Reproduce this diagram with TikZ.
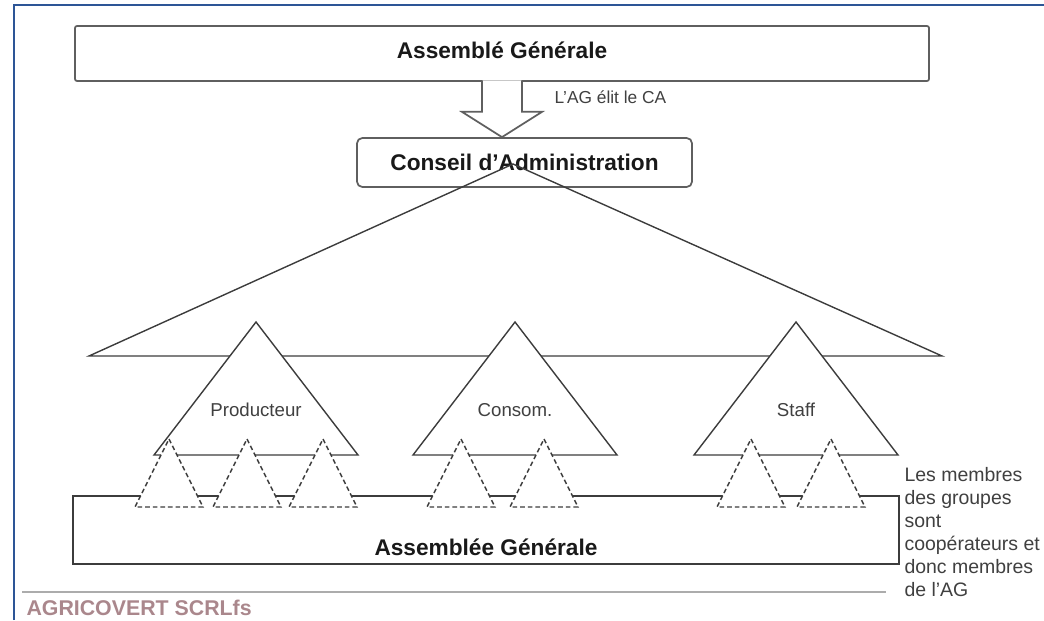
\documentclass[tikz,border=0pt]{standalone}
\usepackage{fontspec}
\setmainfont{Liberation Sans}
\usetikzlibrary{calc}
\definecolor{framebl}{RGB}{45,85,150}
\definecolor{boxgr}{RGB}{95,95,95}
\definecolor{linegr}{RGB}{60,60,60}
\definecolor{logopink}{RGB}{170,135,140}
\tikzset{every picture/.style={line width=0.75pt}}
\tikzset{
  box/.style={draw=boxgr, line width=1.3pt, fill=white, inner sep=0pt, rounded corners=1.5pt},
  grp/.style={draw=linegr, line width=1.05pt, fill=white, line join=miter},
  member/.style={draw=linegr, line width=1.1pt, fill=white, dash pattern=on 3.5pt off 2.2pt},
  title/.style={font=\fontsize{17}{20}\selectfont\bfseries, text=black!90},
  grplabel/.style={font=\fontsize{14}{17}\selectfont, text=black!75},
}

\begin{document}
\begin{tikzpicture}[x=0.75pt,y=0.75pt,yscale=-1,xscale=1]
\useasboundingbox (0,0) rectangle (1044,620);

%Frame
\draw [framebl, line width=1.8pt] (14,620) -- (14,5) -- (1044,5) ;

%Shape: Rectangle (AG top)
\node [box, minimum width=640.5pt, minimum height=41.25pt] (agtop) at (502,53.5) {};
% Text Node
\node [title] (agtoplab) at (502,50) {Assemblé Générale};

%Shape: Rectangle (CA)
\node [box, rounded corners=4pt, minimum width=251.25pt, minimum height=36.75pt, title] (ca) at (524.5,162.5) {Conseil d’Administration};

%Block arrow AG -> CA
\draw [box, rounded corners=0pt] ($(agtop.south)+(-20,-1.5)$) -- ++(0,31.5) -- ++(-20,0) -- (agtop.south |- ca.north) -- ($(agtop.south)+(40,30)$) -- ++(-20,0) -- ++(0,-31.5) ;
% Text Node
\node [anchor=west, inner sep=0pt, font=\fontsize{13}{15}\selectfont, text=black!75] (elit) at (554,97) {L’AG élit le CA};

%Roof
\coordinate (apex) at (513,164);
\coordinate (roofl) at (89,356);
\coordinate (roofr) at (942,356);
\draw [grp, fill=none] (roofl) -- (apex) -- (roofr) -- cycle ;

%Groups
\foreach \gx/\gname/\gtext in {256/prod/Producteur, 515/cons/Consom., 796/staff/Staff}{
  \draw [grp] (\gx,322) -- (\gx+102,455) -- (\gx-102,455) -- cycle ;
  \node [grplabel] (\gname) at (\gx,410) {\gtext};
}

%Shape: Rectangle (AG bottom)
\node [box, draw=linegr, rounded corners=0pt, minimum width=619.5pt, minimum height=51pt] (agbot) at (486,530) {};

%Members
\foreach \mx in {169,247,323,461,544,751,831}
  \draw [member] (\mx,439) -- (\mx+34,507) -- (\mx-34,507) -- cycle ;

% Text Node
\node [title] (agbotlab) at (486,547) {Assemblée Générale};

% Text Node
\node [anchor=north west, align=left, inner sep=0pt, font=\fontsize{14.6}{17.25}\selectfont, text=black!75] (note) at (904,467) {Les membres\\des groupes\\sont\\coopérateurs et\\donc membres\\de l’AG};

%Footer
\draw [gray!65, line width=1pt] (22,592) -- (886,592) ;
\node [anchor=west, inner sep=0pt, font=\fontsize{16}{18}\selectfont\bfseries, text=logopink] (logo) at (26,608) {AGRICOVERT SCRLfs};

\end{tikzpicture}
\end{document}
